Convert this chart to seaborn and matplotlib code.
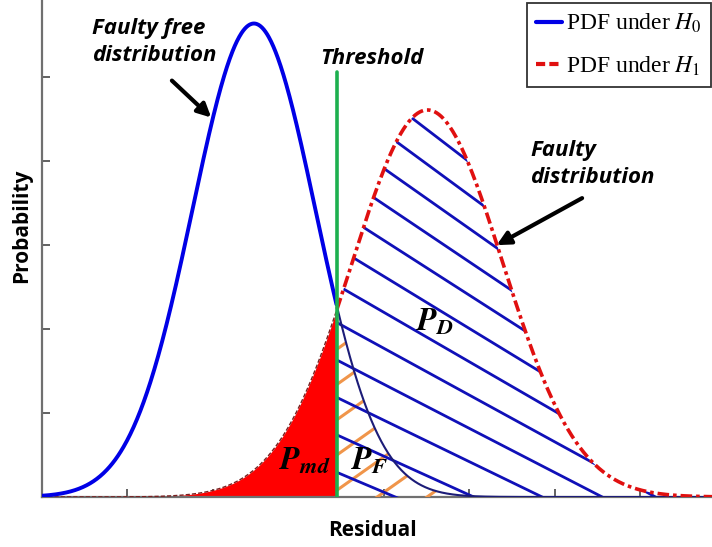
import numpy as np
import pandas as pd
import seaborn as sns
from matplotlib import pyplot as plt
from matplotlib.lines import Line2D
from matplotlib.patches import Polygon

# values, in tick units (ticks are 1 apart on both axes)
curve_names = ["PDF under $H_{\\mathit{0}}$", "PDF under $H_{\\mathit{1}}$"]
curve_means = [2.48, 4.51]
curve_sds = [0.72, 0.88]
curve_peaks = [5.64, 4.61]
threshold = 3.45
x_range = [0, 7.84]
y_range = [0, 5.92]

area_labels = ["$\\mathbfit{P}_{\\mathbfit{D}}$", "$\\mathbfit{P}_{\\mathbfit{md}}$", "$\\mathbfit{P}_{\\mathbfit{F}}$"]

sns.set_style("ticks")
plt.rcParams['mathtext.fontset'] = 'stix'
plt.rcParams['font.family'] = ['Open Sans', 'DejaVu Sans']
plt.rcParams['text.color'] = 'black'
plt.rcParams['axes.labelcolor'] = 'black'

# build the two pdf curves
x = np.linspace(x_range[0], x_range[1], 1200)
frames = []
for name, m, s, p in zip(curve_names, curve_means, curve_sds, curve_peaks):
    frames.append(pd.DataFrame({'Residual': x,
                                'Probability': p * np.exp(-0.5 * ((x - m) / s) ** 2),
                                'curve': name}))
df = pd.concat(frames, ignore_index=True)
h0 = df[df['curve'] == curve_names[0]]
h1 = df[df['curve'] == curve_names[1]]

fig = plt.figure(figsize=(7.12, 5.47), dpi=100)
ax = fig.add_axes([42 / 712, 50 / 547, 670 / 712, 497 / 547])

# P_md : red area under H1 left of the threshold
left1 = h1[h1['Residual'] <= threshold]
ax.fill_between(left1['Residual'], 0, left1['Probability'], color='#ff0000', lw=0, zorder=2)
ax.plot(left1['Residual'], left1['Probability'], color='#7a2020', lw=1.0, ls=(0, (3, 1.5)), zorder=3)

# hatch areas (clip lines to the region under each curve right of threshold)
right1 = h1[h1['Residual'] >= threshold]
right0 = h0[h0['Residual'] >= threshold]
poly_d = Polygon(np.column_stack([np.r_[threshold, right1['Residual'], x_range[1]],
                                  np.r_[0, right1['Probability'], 0]]),
                 closed=True, fill=False, lw=0)
poly_f = Polygon(np.column_stack([np.r_[threshold, right0['Residual'], x_range[1]],
                                  np.r_[0, right0['Probability'], 0]]),
                 closed=True, fill=False, lw=0)
ax.add_patch(poly_d)
ax.add_patch(poly_f)

hx = np.array([threshold - 0.1, x_range[1] + 0.5])
starts = np.arange(5.2, -3.0, -0.446)
for k, c in enumerate(starts):
    slope = 0.78 - 0.35 * min(k, 11) / 11
    ln, = ax.plot(hx, c - slope * (hx - threshold), color='#1010b8', lw=2.0, zorder=4)
    ln.set_clip_path(poly_d)

for c in np.arange(1.76, -2.5, -0.42):
    ln, = ax.plot(hx, c + 0.72 * (hx - threshold), color='#f0954a', lw=2.2, zorder=3.5)
    ln.set_clip_path(poly_f)

# curves
left0 = h0[h0['Residual'] <= threshold]
sns.lineplot(data=left0, x='Residual', y='Probability', color='#0000e6', lw=2.8, ax=ax, zorder=6)
sns.lineplot(data=right0, x='Residual', y='Probability', color='#1c1c78', lw=1.5, ax=ax, zorder=6)
sns.lineplot(data=right1, x='Residual', y='Probability', color='#e01010', lw=2.6,
             ls=(0, (3.2, 1.1, 1.0, 1.1)), ax=ax, zorder=6)

# threshold line
ax.plot([threshold, threshold], [0, 5.06], color='#1db04f', lw=2.6, zorder=7)

ax.set_xlim(x_range)
ax.set_ylim(y_range)
ax.set_xticks(range(1, 8))
ax.set_yticks(range(1, 6))
ax.tick_params(direction='in', length=6, width=1.3, color='#555555', labelbottom=False, labelleft=False)
sns.despine(ax=ax)
for sp in ['left', 'bottom']:
    ax.spines[sp].set_color('#707070')
    ax.spines[sp].set_linewidth(1.6)

ax.set_xlabel('Residual', fontsize=15, fontweight='bold')
ax.set_ylabel('Probability', fontsize=15, fontweight='bold')
ax.xaxis.set_label_coords((372 - 42) / 670, (497 - 530) / 497)
ax.yaxis.set_label_coords((22 - 42) / 670, (497 - 226) / 497)
ax.xaxis.label.set_va('center')
ax.yaxis.label.set_va('center')

# annotations
note = dict(fontsize=16, fontweight='bold', fontstyle='italic', color='black')
ax.text(0.58, 5.42, 'Faulty free\ndistribution', ha='left', va='center', linespacing=1.35, **note)
ax.text(3.86, 5.22, 'Threshold', ha='center', va='center', **note)
ax.text(5.71, 3.97, 'Faulty\ndistribution', ha='left', va='center', linespacing=1.35, **note)
arrow = dict(arrowstyle='-|>', color='black', lw=3, mutation_scale=20, shrinkA=0, shrinkB=0)
ax.annotate('', xy=(1.98, 4.52), xytext=(1.52, 4.96), arrowprops=arrow, zorder=8)
ax.annotate('', xy=(5.32, 3.0), xytext=(6.32, 3.56), arrowprops=arrow, zorder=8)

ax.text(4.6, 2.08, area_labels[0], fontsize=23, ha='center', va='center', zorder=9)
ax.text(3.08, 0.42, area_labels[1], fontsize=23, ha='center', va='center', zorder=9)
ax.text(3.84, 0.42, area_labels[2], fontsize=23, ha='center', va='center', zorder=9)

# legend
handles = [Line2D([], [], color='#0000e6', lw=3),
           Line2D([], [], color='#e01010', lw=3, ls=(0, (2.2, 1.0)))]
leg = fig.legend(handles, curve_names, loc='upper right', bbox_to_anchor=(0.9985, 0.995),
                 prop={'family': 'Liberation Serif', 'size': 17}, fancybox=False,
                 edgecolor='#333333', framealpha=1, handlelength=1.1, handletextpad=0.15,
                 borderpad=0.4, labelspacing=0.8, borderaxespad=0)
leg.get_frame().set_linewidth(1.3)

fig.savefig('out.png', dpi=100)
